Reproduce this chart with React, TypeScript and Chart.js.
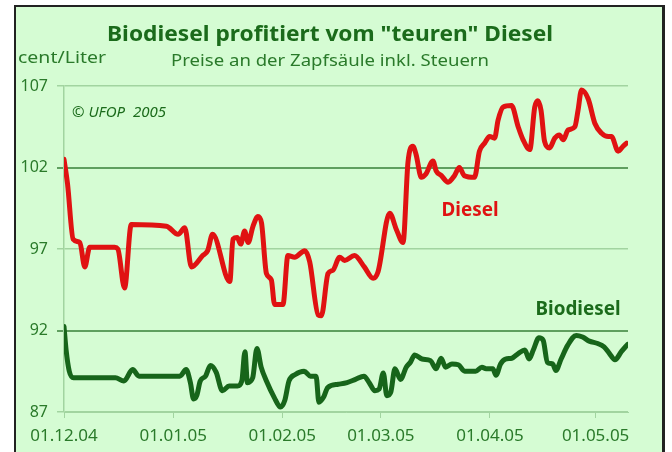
import React, { useEffect, useRef } from "react";
import { Chart, registerables } from "chart.js";

Chart.register(...registerables);

// Days counted from 01.12.2004
const tickDays = [0, 31, 62, 90, 121, 151];
const tickLabels = ["01.12.04", "01.01.05", "01.02.05", "01.03.05", "01.04.05", "01.05.05"];
const yTicks = [87, 92, 97, 102, 107];

const dieselDays = [
  0, 1, 2.6, 4.5, 5.9, 7.3, 14.4, 15.3, 17.2, 19.1, 29.1, 32.4, 34.3, 36.2, 39.4, 40.8, 42.2,
  47.1, 48.0, 49.2, 50.2, 51.3, 52.3, 53.7, 55.1, 56.1, 57.5, 58.9, 59.8, 62.2, 63.6, 65.5,
  68.4, 69.8, 72.2, 73.1, 75.0, 76.4, 78.3, 79.7, 82.5, 85.3, 87.8, 89.2, 92.5, 94.4, 96.3,
  97.7, 99.1, 100.0, 101.5, 102.8, 104.8, 105.7, 107.2, 109.1, 110.9, 112.3, 113.7, 116.6,
  118.0, 119.5, 120.9, 122.3, 123.3, 124.7, 127.1, 129.0, 130.4, 132.3, 133.7, 134.6, 135.5,
  136.5, 137.9, 139.4, 140.7, 141.8, 143.2, 145.1, 146.0, 147.0, 148.9, 150.8, 152.7, 154.6,
  155.5, 157.4, 158.8, 159.8,
];
const dieselPrices = [
  102.5, 101.0, 97.6, 97.4, 95.9, 97.1, 97.1, 97.0, 94.6, 98.5, 98.4, 97.9, 98.3, 95.9, 96.6, 96.9, 97.9,
  95.0, 97.6, 97.7, 97.3, 98.1, 97.4, 98.4, 99.0, 98.6, 95.5, 95.1, 93.6, 93.6, 96.6, 96.5,
  96.9, 96.2, 92.95, 92.9, 95.5, 95.7, 96.5, 96.3, 96.6, 95.9, 95.2, 95.6, 99.2, 98.2, 97.4,
  102.3, 103.3, 102.8, 101.4, 101.6, 102.4, 101.8, 101.5, 101.1, 101.5, 102.0, 101.5, 101.4,
  103.0, 103.5, 103.9, 103.8, 104.9, 105.7, 105.8, 104.5, 103.7, 103.1, 105.7, 106.1, 105.5,
  103.6, 103.2, 103.8, 104.0, 103.7, 104.3, 104.5, 105.5, 106.75, 106.2, 104.7, 104.1, 103.9,
  103.9, 103.0, 103.3, 103.5,
];

const bioDays = [
  0, 0.6, 1.5, 2.7, 6.1, 14.6, 17, 19.5, 21.3, 32.9, 34.7, 35.9, 36.8, 37.7, 38.7, 40.2, 41.6,
  43.2, 45, 46.9, 49.3, 50.5, 51.4, 52.1, 53.6, 54.8, 56, 57.5, 59.7, 61.5, 62.7, 63.9, 65.7,
  68.2, 70, 71.6, 72.4, 73.7, 74.9, 77.9, 80.4, 82.8, 85.2, 86.7, 88.3, 89.5, 90.7, 91.7, 92.8,
  94, 95.6, 97.2, 98.4, 99.6, 101.7, 104.1, 105.7, 107.1, 108.4, 110.2, 112, 113.8, 116.9,
  118.7, 119.9, 121.8, 122.7, 124, 125.4, 127.2, 129.1, 130.9, 132.1, 133.3, 134.9, 136.1,
  137.3, 138.8, 139.7, 141.2, 143.1, 145.5, 147.3, 149.2, 151.6, 153.4, 154.9, 156.5, 158.3,
  160.1,
];
const bioPrices = [
  92.25, 90.8, 89.5, 89.1, 89.1, 89.1, 88.9, 89.6, 89.2, 89.2, 89.6, 88.8, 87.8, 88.0, 88.9, 89.2, 89.85,
  89.45, 88.3, 88.6, 88.6, 88.9, 90.7, 88.8, 89.1, 90.9, 89.75, 88.9, 87.9, 87.3, 87.7, 88.9, 89.3,
  89.5, 89.2, 89.2, 87.6, 87.9, 88.5, 88.7, 88.8, 89.0, 89.2, 88.8, 88.3, 88.4, 89.4, 88.0, 88.2,
  89.65, 89.0, 89.75, 90.05, 90.5, 90.25, 90.15, 89.65, 90.3, 89.75, 89.95, 89.9, 89.5, 89.5,
  89.75, 89.65, 89.65, 89.25, 89.95, 90.25, 90.3, 90.6, 90.8, 90.25, 90.8, 91.55, 91.4,
  90.05, 89.95, 89.55, 90.25, 91.1, 91.7, 91.6, 91.35, 91.2, 91.0, 90.6, 90.2, 90.7,
  91.15,
];

const FONT = "'Noto Sans', 'Liberation Sans', sans-serif";
const BG = "#d5fcd3";
const DARK_GREEN = "#1b6b1b";
const TICK_GREEN = "#2a7a2a";
const LIGHT_GRID = "#a2d4a0";
const DARK_GRID = "#5f9f5f";

function drawFitted(
  ctx: CanvasRenderingContext2D,
  text: string,
  x: number,
  cy: number,
  width: number,
  font: string,
  color: string,
  align: "center" | "left"
) {
  ctx.save();
  ctx.font = font;
  const w = ctx.measureText(text).width;
  const sx = width / w;
  const cx = align === "center" ? x : x + width / 2;
  ctx.translate(cx, cy);
  ctx.scale(sx, 1);
  ctx.textAlign = "center";
  ctx.textBaseline = "middle";
  ctx.fillStyle = color;
  ctx.fillText(text, 0, 0);
  ctx.restore();
}

const framePlugin = {
  id: "frame",
  beforeDraw(chart: any) {
    const ctx = chart.ctx as CanvasRenderingContext2D;
    ctx.save();
    ctx.fillStyle = "#ffffff";
    ctx.fillRect(0, 0, chart.width, chart.height);
    ctx.fillStyle = BG;
    ctx.fillRect(15, 6, 649, 470);
    ctx.fillStyle = "#222222";
    ctx.fillRect(14, 5, 2, 470);
    ctx.fillRect(14, 5, 651, 2);
    ctx.fillRect(662, 5, 3, 470);
    ctx.restore();
  },
  afterDraw(chart: any) {
    const ctx = chart.ctx as CanvasRenderingContext2D;
    drawFitted(ctx, 'Biodiesel profitiert vom "teuren" Diesel', 330, 35, 446, `bold 21px ${FONT}`, DARK_GREEN, "center");
    drawFitted(ctx, "Preise an der Zapfsäule inkl. Steuern", 330, 61, 318, `16px ${FONT}`, TICK_GREEN, "center");
    drawFitted(ctx, "cent/Liter", 18, 58, 88, `17px ${FONT}`, TICK_GREEN, "left");
    drawFitted(ctx, "© UFOP  2005", 72, 113, 94, `italic 14px ${FONT}`, DARK_GREEN, "left");
    drawFitted(ctx, "Diesel", 470, 211, 57, `bold 19px ${FONT}`, "#e01212", "center");
    drawFitted(ctx, "Biodiesel", 578, 310, 85, `bold 19px ${FONT}`, DARK_GREEN, "center");
  },
};

export default function App() {
  const ref = useRef<HTMLCanvasElement | null>(null);

  useEffect(() => {
    if (!ref.current) return;
    const chart = new Chart(ref.current, {
      type: "line",
      data: {
        datasets: [
          {
            label: "Diesel",
            data: dieselDays.map((d, i) => ({ x: d, y: dieselPrices[i] })),
            borderColor: "#e01212",
            borderWidth: 5,
            pointRadius: 0,
            cubicInterpolationMode: "monotone",
            borderJoinStyle: "round",
            borderCapStyle: "round",
          },
          {
            label: "Biodiesel",
            data: bioDays.map((d, i) => ({ x: d, y: bioPrices[i] })),
            borderColor: "#17651a",
            borderWidth: 5,
            pointRadius: 0,
            cubicInterpolationMode: "monotone",
            borderJoinStyle: "round",
            borderCapStyle: "round",
          },
        ],
      },
      options: {
        responsive: false,
        animation: false,
        devicePixelRatio: 1,
        layout: { padding: { left: 0, top: 86, right: 44, bottom: 0 } },
        plugins: {
          legend: { display: false },
          tooltip: { enabled: false },
        },
        scales: {
          x: {
            type: "linear",
            min: 0,
            max: 160.2,
            afterBuildTicks: (scale: any) => {
              scale.ticks = tickDays.map((v) => ({ value: v }));
            },
            afterFit: (scale: any) => {
              scale.height = 40;
            },
            ticks: {
              autoSkip: false,
              maxRotation: 0,
              padding: 8,
              color: TICK_GREEN,
              font: { family: FONT, size: 17 },
              callback: (_v: any, i: number) => tickLabels[i],
            },
            grid: { drawOnChartArea: false, drawTicks: true, tickLength: 6, color: LIGHT_GRID },
            border: { color: LIGHT_GRID, width: 1 },
          },
          y: {
            min: 87,
            max: 107,
            afterBuildTicks: (scale: any) => {
              scale.ticks = yTicks.map((v) => ({ value: v }));
            },
            afterFit: (scale: any) => {
              scale.width = 64;
            },
            ticks: {
              padding: 9,
              color: TICK_GREEN,
              font: { family: FONT, size: 16 },
            },
            grid: {
              tickLength: 7,
              color: (c: any) => (c.tick && (c.tick.value === 92 || c.tick.value === 102) ? DARK_GRID : LIGHT_GRID),
              lineWidth: (c: any) => (c.tick && (c.tick.value === 92 || c.tick.value === 102) ? 2 : 1.5),
            },
            border: { color: LIGHT_GRID, width: 1.5 },
          },
        },
      },
      plugins: [framePlugin],
    } as any);
    return () => chart.destroy();
  }, []);

  return (
    <div style={{ position: "absolute", left: 0, top: 0, width: 672, height: 452 }}>
      <canvas ref={ref} width={672} height={452} style={{ display: "block" }} />
    </div>
  );
}
